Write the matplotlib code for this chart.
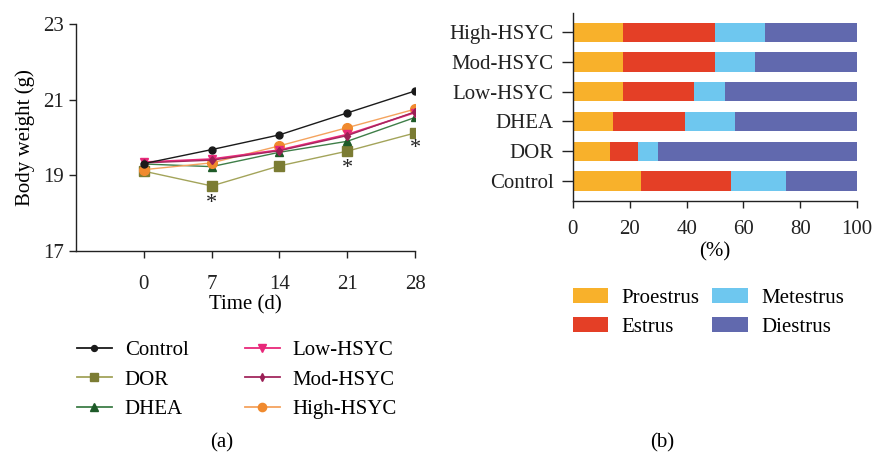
import matplotlib
matplotlib.use("Agg")
import matplotlib.pyplot as plt
from matplotlib.patches import Patch
from matplotlib.lines import Line2D

plt.rcParams['font.family'] = ['Liberation Serif', 'DejaVu Serif']

# ---- data: panel (a) ----
days = [0, 7, 14, 21, 28]
control = [19.31, 19.68, 20.07, 20.65, 21.23]
dor = [19.11, 18.72, 19.25, 19.64, 20.12]
dhea = [19.30, 19.23, 19.61, 19.90, 20.53]
low_hsyc = [19.35, 19.43, 19.67, 20.08, 20.66]
mod_hsyc = [19.33, 19.40, 19.65, 20.05, 20.68]
high_hsyc = [19.15, 19.33, 19.78, 20.26, 20.75]
star_days = [7, 21, 28]
star_vals = [18.25, 19.18, 19.70]
y_ticks = [17, 19, 21, 23]

# ---- data: panel (b) ----
groups = ["Control", "DOR", "DHEA", "Low-HSYC", "Mod-HSYC", "High-HSYC"]
proestrus = [24.0, 13.0, 14.0, 17.5, 17.5, 17.5]
estrus = [31.5, 10.0, 25.5, 25.0, 32.5, 32.5]
metestrus = [19.5, 7.0, 17.5, 11.0, 14.0, 17.5]
diestrus = [25.0, 70.0, 43.0, 46.5, 36.0, 32.5]
stage_names = ["Proestrus", "Estrus", "Metestrus", "Diestrus"]
stage_colors = ["#F8B12B", "#E43F26", "#6EC7EF", "#6169AE"]

fig = plt.figure(figsize=(8.72, 4.53), dpi=100)
FS = 15

# ---------- panel (a) ----------
ax = fig.add_axes([0.0872, 0.4459, 0.476 - 0.0872, 0.947 - 0.4459])
series = [
    ("Control", control, "#1a1a1a", "#1a1a1a", "o", 5, 1.0),
    ("DOR", dor, "#A3A45A", "#7B7C33", "s", 6.5, 1.0),
    ("DHEA", dhea, "#3E7E48", "#1E5A28", "^", 6, 1.0),
    ("Low-HSYC", low_hsyc, "#E8287A", "#E8287A", "v", 6, 1.3),
    ("Mod-HSYC", mod_hsyc, "#A3285E", "#9A1F55", "d", 4.5, 1.0),
    ("High-HSYC", high_hsyc, "#F4A35E", "#F08A2E", "o", 7, 1.0),
]
order = [1, 2, 5, 3, 4, 0]
for i in order:
    name, vals, lc, mc, m, ms, lw = series[i]
    ax.plot(days, vals, color=lc, lw=lw, marker=m, ms=ms, mfc=mc, mec=mc, zorder=3)
for d, v in zip(star_days, star_vals):
    ax.text(d, v, "*", ha="center", va="center", fontsize=FS + 1, color="#222222")

ax.set_xlim(-7, 28)
ax.set_ylim(17, 23)
ax.set_xticks(days)
ax.set_yticks(y_ticks)
ax.spines['top'].set_visible(False)
ax.spines['right'].set_visible(False)
for s in ['left', 'bottom']:
    ax.spines[s].set_linewidth(1.0)
    ax.spines[s].set_color("#222222")
ax.tick_params(axis='both', labelsize=FS, direction='out', length=5, width=1, colors="#222222")
ax.tick_params(axis='x', pad=12)
ax.set_xlabel("Time (d)", fontsize=FS, labelpad=1)
ax.set_ylabel("Body weight (g)", fontsize=FS, labelpad=6)

handles = []
for name, vals, lc, mc, m, ms, lw in series:
    handles.append(Line2D([0], [0], color=lc, lw=1.3, marker=m, ms=ms * 0.85, mfc=mc, mec=mc, label=name))
fig.legend(handles=handles, loc="upper left", bbox_to_anchor=(0.088, 0.248), ncol=2,
           frameon=False, fontsize=FS, handlelength=1.7, columnspacing=2.7,
           labelspacing=0.47, handletextpad=0.6, borderaxespad=0, borderpad=0)
fig.text(0.254, 0.022, "(a)", ha="center", va="center", fontsize=FS)

# ---------- panel (b) ----------
bx = fig.add_axes([0.657, 0.557, 0.983 - 0.657, 0.971 - 0.557])
ypos = list(range(len(groups)))
left = [0.0] * len(groups)
for vals, col, nm in zip([proestrus, estrus, metestrus, diestrus], stage_colors, stage_names):
    bx.barh(ypos, vals, left=left, height=0.65, color=col, edgecolor='none', label=nm)
    left = [a + b for a, b in zip(left, vals)]
bx.set_xlim(0, 100)
bx.set_ylim(-0.66, 5.64)
bx.set_yticks(ypos)
bx.set_yticklabels(groups)
bx.set_xticks([0, 20, 40, 60, 80, 100])
bx.spines['top'].set_visible(False)
bx.spines['right'].set_visible(False)
for s in ['left', 'bottom']:
    bx.spines[s].set_linewidth(1.0)
    bx.spines[s].set_color("#222222")
bx.tick_params(axis='both', labelsize=FS, direction='out', width=1, colors="#222222")
bx.tick_params(axis='y', length=8, pad=6)
bx.tick_params(axis='x', length=5, pad=9)
bx.set_xlabel("(%)", fontsize=FS, labelpad=2)

phandles = [Patch(facecolor=c, label=n) for c, n in zip(stage_colors, stage_names)]
fig.legend(handles=phandles, loc="upper left", bbox_to_anchor=(0.657, 0.365), ncol=2,
           frameon=False, fontsize=FS, handlelength=1.7, handleheight=0.75,
           columnspacing=0.6, labelspacing=0.45, handletextpad=0.65, borderaxespad=0, borderpad=0)
fig.text(0.759, 0.022, "(b)", ha="center", va="center", fontsize=FS)

fig.savefig("out.png", dpi=100)
